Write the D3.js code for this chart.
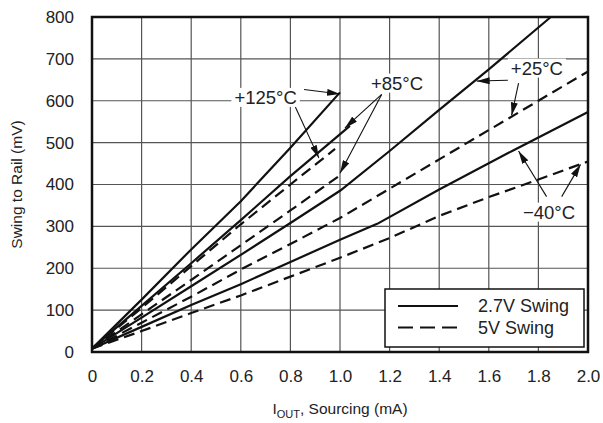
<!DOCTYPE html>
<html><head><meta charset="utf-8">
<script src="https://cdn.jsdelivr.net/npm/d3@7/dist/d3.min.js"></script>
<style>body{margin:0;background:#fff}svg{display:block}text{font-family:"Liberation Sans",Arial,sans-serif;fill:#222}</style>
</head><body><svg id="c" width="603" height="423"></svg>
<script>
const xTicks = [0,0.2,0.4,0.6,0.8,1.0,1.2,1.4,1.6,1.8,2.0];
const xTickLabels = ["0","0.2","0.4","0.6","0.8","1.0","1.2","1.4","1.6","1.8","2.0"];
const yTicks = [0,100,200,300,400,500,600,700,800];

const iOut125Solid = [0,0.2,0.4,0.6,0.8,1.0];
const swing125Solid = [8,125,245,360,488,620];
const iOut85Solid = [0,0.2,0.4,0.6,0.8,1.04];
const swing85Solid = [8,110,212,315,420,540];
const iOut125Dash = [0,0.2,0.4,0.6,0.8,0.98];
const swing125Dash = [8,105,205,305,400,485];
const iOut85Dash = [0,0.2,0.4,0.6,0.8,1.0];
const swing85Dash = [8,90,172,255,338,422];
const iOut25Solid = [0,0.2,0.4,0.6,0.8,1.0,1.2,1.4,1.6,1.85];
const swing25Solid = [8,82,157,232,308,385,480,578,675,800];
const iOut25Dash = [0,0.2,0.4,0.6,0.8,1.0,1.2,1.4,1.6,1.8,2.0];
const swing25Dash = [8,70,132,197,258,320,390,460,530,600,670];
const iOutM40Solid = [0,0.2,0.4,0.6,0.8,1.0,1.15,1.4,1.7,2.0];
const swingM40Solid = [8,60,112,162,215,268,306,388,482,573];
const iOutM40Dash = [0,0.2,0.4,0.6,0.8,1.0,1.2,1.4,1.6,1.8,2.0];
const swingM40Dash = [8,50,93,135,180,225,272,325,370,412,455];

const legendLabels = ["2.7V Swing","5V Swing"];

const series = [
  {x:iOut125Solid,y:swing125Solid,dash:false},
  {x:iOut85Solid,y:swing85Solid,dash:false},
  {x:iOut125Dash,y:swing125Dash,dash:true},
  {x:iOut85Dash,y:swing85Dash,dash:true},
  {x:iOut25Solid,y:swing25Solid,dash:false},
  {x:iOut25Dash,y:swing25Dash,dash:true},
  {x:iOutM40Solid,y:swingM40Solid,dash:false},
  {x:iOutM40Dash,y:swingM40Dash,dash:true}
];

// annotation: label, label position (data), arrow tips (data), arrow tails (data)
const annotations = [
  {t:"+125°C", at:[0.70,608], tips:[[1.0,616],[0.915,463]], from:[[0.855,627],[0.82,585]]},
  {t:"+85°C", at:[1.23,642], tips:[[1.02,535],[1.0,427]], from:[[1.168,615],[1.168,615]]},
  {t:"+25°C", at:[1.794,678], tips:[[1.551,647],[1.692,565]], from:[[1.677,649],[1.72,642]]},
  {t:"−40°C", at:[1.843,334], tips:[[1.72,480],[1.97,448]], from:[[1.833,371],[1.894,371]]}
];

const W=603,H=423;
const m={l:92,r:15,t:17,b:71};
const svg=d3.select("#c");
const x=d3.scaleLinear().domain([0,2]).range([m.l,W-m.r]);
const y=d3.scaleLinear().domain([0,800]).range([H-m.b,m.t]);

// grid
const g=svg.append("g");
g.selectAll(".vx").data(xTicks.slice(1,-1)).enter().append("line")
 .attr("x1",d=>x(d)).attr("x2",d=>x(d)).attr("y1",y(0)).attr("y2",y(800))
 .attr("stroke","#555").attr("stroke-width",1.2);
g.selectAll(".hy").data(yTicks.slice(1,-1)).enter().append("line")
 .attr("y1",d=>y(d)).attr("y2",d=>y(d)).attr("x1",x(0)).attr("x2",x(2))
 .attr("stroke","#555").attr("stroke-width",1.2);

// axes tick labels
const xAxis=d3.axisBottom(x).tickValues(xTicks).tickFormat((d,i)=>xTickLabels[i]).tickSize(0).tickPadding(18);
const ax=svg.append("g").attr("transform",`translate(0,${y(0)})`).call(xAxis);
ax.select(".domain").remove();
ax.selectAll("text").style("font-size","17px").style("font-family","Liberation Sans, Arial").attr("fill","#222");
const yAxis=d3.axisLeft(y).tickValues(yTicks).tickFormat(d3.format("d")).tickSize(0).tickPadding(18);
const ay=svg.append("g").attr("transform",`translate(${x(0)},0)`).call(yAxis);
ay.select(".domain").remove();
ay.selectAll("text").style("font-size","17px").style("font-family","Liberation Sans, Arial").attr("fill","#222");

// titles
svg.append("text").attr("transform",`translate(22,${(y(0)+y(800))/2}) rotate(-90)`)
 .attr("text-anchor","middle").style("font-size","15.5px").text("Swing to Rail (mV)");
const xt=svg.append("text").attr("x",(x(0)+x(2))/2).attr("y",414).attr("text-anchor","middle").style("font-size","15.5px");
xt.append("tspan").text("I");
xt.append("tspan").attr("dy",4).style("font-size","11px").text("OUT");
xt.append("tspan").attr("dy",-4).text(", Sourcing (mA)");

// annotation labels with white backgrounds
const annG=svg.append("g");
const labelTexts=annotations.map(a=>annG.append("text").attr("x",x(a.at[0])).attr("y",y(a.at[1])).attr("text-anchor","middle")
   .attr("dominant-baseline","central").style("font-size","18.5px").text(a.t));
labelTexts.forEach(t=>{
  const b=t.node().getBBox();
  annG.insert("rect",":first-child").attr("x",b.x-3).attr("y",b.y+1).attr("width",b.width+6).attr("height",b.height-2).attr("fill","#fff");
});

// lines
const line=d3.line().x(d=>x(d[0])).y(d=>y(d[1]));
svg.append("g").selectAll("path").data(series).enter().append("path")
 .attr("d",s=>line(s.x.map((v,i)=>[v,s.y[i]])))
 .attr("fill","none").attr("stroke","#111").attr("stroke-width",2.2).attr("stroke-linejoin","round")
 .attr("stroke-dasharray",s=>s.dash?"11,6":null);

// arrows
svg.append("defs").append("marker").attr("id","ah").attr("viewBox","0 0 13 7").attr("refX",13).attr("refY",3.5)
 .attr("markerWidth",13).attr("markerHeight",7).attr("markerUnits","userSpaceOnUse").attr("orient","auto")
 .append("path").attr("d","M0,0L13,3.5L0,7Z").attr("fill","#111");
const arrG=svg.append("g");
annotations.forEach(a=>{
  a.tips.forEach((tp,i)=>{
    arrG.append("line").attr("x1",x(a.from[i][0])).attr("y1",y(a.from[i][1]))
     .attr("x2",x(tp[0])).attr("y2",y(tp[1])).attr("stroke","#111").attr("stroke-width",1.1).attr("marker-end","url(#ah)");
  });
});
svg.node().appendChild(annG.node());

// legend
const lg=svg.append("g");
lg.append("rect").attr("x",385).attr("y",289).attr("width",199).attr("height",58).attr("fill","#fff").attr("stroke","#111").attr("stroke-width",1.5);
legendLabels.forEach((l,i)=>{
  const yy=306+i*21.5;
  lg.append("line").attr("x1",398).attr("x2",458).attr("y1",yy).attr("y2",yy).attr("stroke","#111").attr("stroke-width",2.2)
   .attr("stroke-dasharray",i? "15,7":null);
  lg.append("text").attr("x",478).attr("y",yy).attr("dominant-baseline","central").style("font-size","18px").text(l);
});

// frame
svg.append("rect").attr("x",x(0)).attr("y",y(800)).attr("width",x(2)-x(0)).attr("height",y(0)-y(800))
 .attr("fill","none").attr("stroke","#111").attr("stroke-width",2.5);
</script></body></html>
